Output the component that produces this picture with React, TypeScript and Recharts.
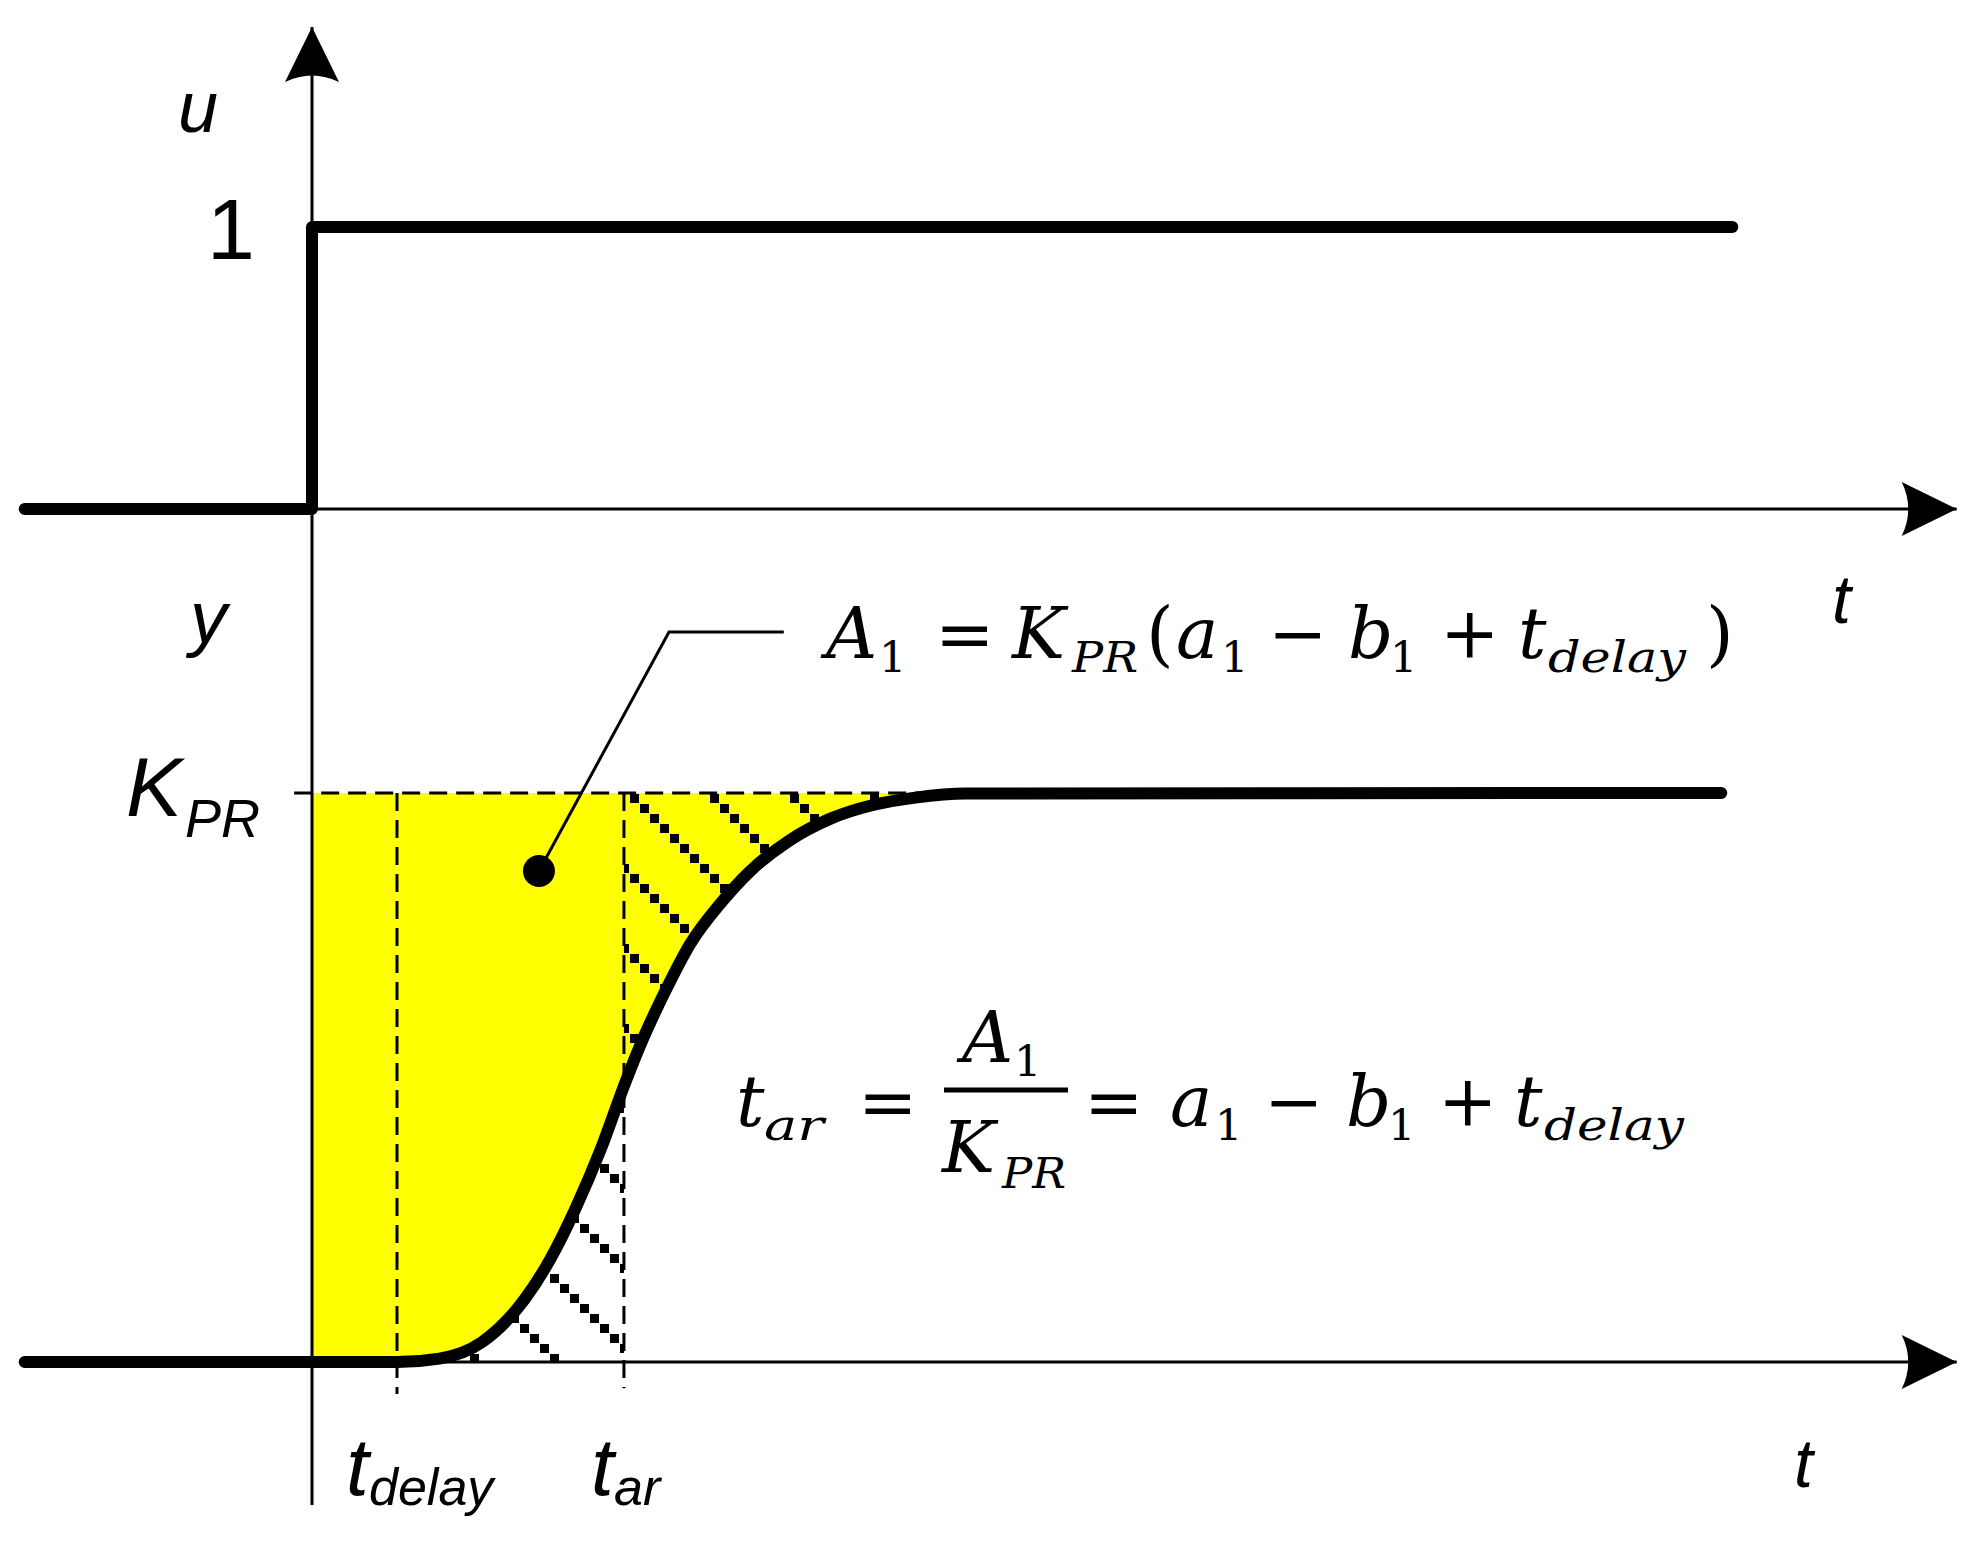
import React from 'react';
import { ComposedChart, Line, Area, XAxis, YAxis, ReferenceLine, ReferenceDot } from 'recharts';

// time in units of t_delay (step at t = 0)
const T_DELAY = 1;
const T_AR = 3.67;

// unit step input u(t)
const stepT = [-3.38, 0, 0, 16.71];
const stepU = [0, 0, 1, 1];

// plant response y(t) / K_PR
const respT = [-3.38, 1, 1.5, 2.0, 2.5, 2.8, 3.1, 3.4, 3.67, 3.9, 4.15, 4.45, 4.8, 5.15, 5.6, 6.1, 6.6, 7.1, 7.7, 16.58];
const respY = [0, 0, 0.006, 0.035, 0.11, 0.18, 0.27, 0.375, 0.485, 0.57, 0.65, 0.735, 0.805, 0.862, 0.915, 0.955, 0.979, 0.992, 0.999, 1];

// K_PR level line and the two time marks
const kprLine = [-0.21, 7.7];
const markBottom = [-0.056, -0.046];

// axis extents: [start, arrow tip]
const timeAxis = [0, 19.35];
const valueAxis = [-0.2513, 2.3462];

// callout for A1: dot, elbow, end
const calloutT = [2.67, 4.2, 5.55];
const calloutY = [0.863, 1.283, 1.283];

const W = 1987;
const H = 1544;

const stepData = stepT.map((t, i) => ({ t, u: stepU[i] }));
const respData = respT.map((t, i) => ({ t, y: respY[i] }));
const yellowData = [
  { t: 0, band: [0, 1] },
  ...respData.filter((d) => d.t >= T_DELAY && d.y < 1).map((d) => ({ t: d.t, band: [d.y, 1] })),
];
const hatchUp = respData.filter((d) => d.t >= T_AR && d.y < 1).map((d) => ({ t: d.t, band: [d.y, 1] }));
const hatchLow = respData.filter((d) => d.t >= T_DELAY && d.t <= T_AR).map((d) => ({ t: d.t, band: [0, d.y] }));
const calloutData = calloutT.map((t, i) => ({ t, y: calloutY[i] }));

const upArrow = (p: any) => {
  const { cx, cy } = p;
  return <path d={`M${cx} ${cy} L${cx + 27} ${cy + 55} Q${cx} ${cy + 42} ${cx - 27} ${cy + 55} Z`} fill="#000" />;
};
const rightArrow = (p: any) => {
  const { cx, cy } = p;
  return <path d={`M${cx} ${cy} L${cx - 55} ${cy - 27} Q${cx - 42} ${cy} ${cx - 55} ${cy + 27} Z`} fill="#000" />;
};

const SANS = 'Liberation Sans, Arial, sans-serif';
const SERIF = 'DejaVu Serif, serif';

const S = ({ x, y, size, children, italic = true }: any) => (
  <text x={x} y={y} fontFamily={SANS} fontSize={size} fontStyle={italic ? 'italic' : 'normal'} fill="#000">
    {children}
  </text>
);

const M = ({ x, y, children, sub = false, italic = false, len }: any) => (
  <text
    x={x}
    y={y}
    fontFamily={SERIF}
    fontSize={sub ? 43 : 71}
    fontStyle={italic ? 'italic' : 'normal'}
    fill="#000"
    textLength={len}
    lengthAdjust={len ? 'spacingAndGlyphs' : undefined}
  >
    {children}
  </text>
);

const Labels = () => (
  <g>
    <S x={178} y={132} size={72}>u</S>
    <S x={207} y={259} size={86} italic={false}>1</S>
    <S x={1832} y={623} size={68}>t</S>
    <S x={190} y={643} size={74}>y</S>
    <S x={126} y={816} size={84}>K</S>
    <S x={185} y={837} size={54}>PR</S>
    <S x={346} y={1495} size={82}>t</S>
    <S x={369} y={1505} size={52}>delay</S>
    <S x={591} y={1495} size={82}>t</S>
    <S x={614} y={1505} size={52}>ar</S>
    <S x={1794} y={1487} size={68}>t</S>

    {/* A1 = K_PR(a1 - b1 + t_delay) */}
    <M x={826} y={658} italic>A</M>
    <M x={879} y={672} sub>1</M>
    <M x={935} y={658}>=</M>
    <M x={1012} y={658} italic>K</M>
    <M x={1072} y={672} sub italic len={66}>PR</M>
    <M x={1146} y={658}>(</M>
    <M x={1176} y={658} italic>a</M>
    <M x={1221} y={672} sub>1</M>
    <M x={1268} y={658}>−</M>
    <M x={1348} y={658} italic>b</M>
    <M x={1390} y={672} sub>1</M>
    <M x={1440} y={658}>+</M>
    <M x={1518} y={658} italic>t</M>
    <M x={1548} y={672} sub italic len={138}>delay</M>
    <M x={1706} y={658}>)</M>

    {/* t_ar = A1 / K_PR = a1 - b1 + t_delay */}
    <M x={736} y={1126} italic>t</M>
    <M x={764} y={1140} sub italic len={60}>ar</M>
    <M x={858} y={1126}>=</M>
    <line x1={944} x2={1068} y1={1090} y2={1090} stroke="#000" strokeWidth={5} />
    <M x={962} y={1062} italic>A</M>
    <M x={1014} y={1076} sub>1</M>
    <M x={942} y={1172} italic>K</M>
    <M x={1002} y={1188} sub italic len={64}>PR</M>
    <M x={1084} y={1126}>=</M>
    <M x={1170} y={1126} italic>a</M>
    <M x={1215} y={1140} sub>1</M>
    <M x={1264} y={1126}>−</M>
    <M x={1346} y={1126} italic>b</M>
    <M x={1388} y={1140} sub>1</M>
    <M x={1438} y={1126}>+</M>
    <M x={1514} y={1126} italic>t</M>
    <M x={1544} y={1140} sub italic len={140}>delay</M>
  </g>
);

const dash = { stroke: '#000', strokeWidth: 3, strokeDasharray: '18 9' };

export default function App() {
  return (
    <div style={{ position: 'absolute', left: 0, top: 0, width: W, height: H, background: '#fff' }}>
      <ComposedChart width={W} height={H} margin={{ top: 0, right: 0, bottom: 0, left: 0 }}>
        <defs>
          <pattern id="hatch" patternUnits="userSpaceOnUse" x={0} y={4} width={80} height={80}>
            {[0, 1, 2, 3, 4, 5, 6, 7].map((i) => (
              <rect key={i} x={i * 10} y={i * 10} width={9} height={9} fill="#000" />
            ))}
          </pattern>
        </defs>
        <XAxis type="number" dataKey="t" domain={[-3.6706, 19.706]} allowDataOverflow hide />
        <YAxis yAxisId="u" type="number" domain={[-3.67, 1.805]} allowDataOverflow hide />
        <YAxis yAxisId="y" type="number" domain={[-0.3198, 2.3937]} allowDataOverflow hide />

        <Area yAxisId="y" data={yellowData} dataKey="band" type="monotone" fill="#ffff00" fillOpacity={1} stroke="none" isAnimationActive={false} activeDot={false} />
        <Area yAxisId="y" data={hatchUp} dataKey="band" type="monotone" fill="url(#hatch)" fillOpacity={1} stroke="none" isAnimationActive={false} activeDot={false} />
        <Area yAxisId="y" data={hatchLow} dataKey="band" type="monotone" fill="url(#hatch)" fillOpacity={1} stroke="none" isAnimationActive={false} activeDot={false} />

        <ReferenceLine yAxisId="y" segment={[{ x: kprLine[0], y: 1 }, { x: kprLine[1], y: 1 }]} {...dash} />
        <ReferenceLine yAxisId="y" segment={[{ x: T_DELAY, y: 1 }, { x: T_DELAY, y: markBottom[0] }]} {...dash} />
        <ReferenceLine yAxisId="y" segment={[{ x: T_AR, y: 1 }, { x: T_AR, y: markBottom[1] }]} {...dash} />

        <ReferenceLine yAxisId="y" segment={[{ x: 0, y: valueAxis[0] }, { x: 0, y: valueAxis[1] }]} stroke="#000" strokeWidth={3} />
        <ReferenceLine yAxisId="u" segment={[{ x: timeAxis[0], y: 0 }, { x: timeAxis[1], y: 0 }]} stroke="#000" strokeWidth={3} />
        <ReferenceLine yAxisId="y" segment={[{ x: timeAxis[0], y: 0 }, { x: timeAxis[1], y: 0 }]} stroke="#000" strokeWidth={3} />
        <ReferenceDot yAxisId="y" x={0} y={valueAxis[1]} shape={upArrow} />
        <ReferenceDot yAxisId="u" x={timeAxis[1]} y={0} shape={rightArrow} />
        <ReferenceDot yAxisId="y" x={timeAxis[1]} y={0} shape={rightArrow} />

        <Line yAxisId="u" data={stepData} dataKey="u" type="linear" stroke="#000" strokeWidth={12} strokeLinecap="round" strokeLinejoin="round" dot={false} activeDot={false} isAnimationActive={false} />
        <Line yAxisId="y" data={respData} dataKey="y" type="monotone" stroke="#000" strokeWidth={12} strokeLinecap="round" dot={false} activeDot={false} isAnimationActive={false} />

        <Line yAxisId="y" data={calloutData} dataKey="y" type="linear" stroke="#000" strokeWidth={3} dot={false} activeDot={false} isAnimationActive={false} />
        <ReferenceDot yAxisId="y" x={calloutT[0]} y={calloutY[0]} r={16} fill="#000" stroke="none" />

        <Labels />
      </ComposedChart>
    </div>
  );
}
